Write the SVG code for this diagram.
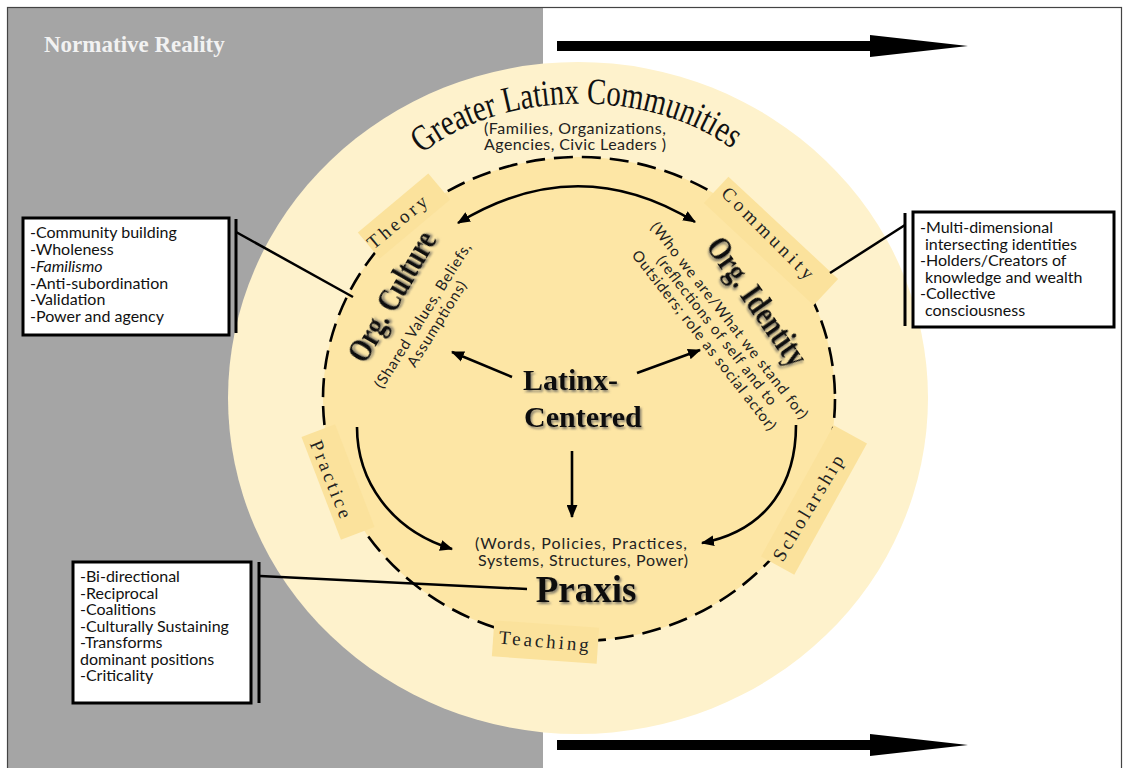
<svg xmlns="http://www.w3.org/2000/svg" width="1128" height="768" viewBox="0 0 1128 768">
<style>
.box{fill:#fff;stroke:#000;stroke-width:3}
.bar{stroke:#000;stroke-width:3}
.conn{stroke:#000;stroke-width:2.5;fill:none}
.btxt{font-family:Lato,"Open Sans",sans-serif;font-size:16px;fill:#111}
.sub{font-family:Lato,"Open Sans",sans-serif;font-size:16px;fill:#222}
.rsub{font-family:Lato,"Open Sans",sans-serif;font-size:15px;fill:#222}
.lbl{font-family:"Liberation Serif",serif;font-size:19px;fill:#222}
.arc{font-family:"Liberation Serif",serif;font-size:37px;fill:#111}
.big{font-family:"Liberation Serif",serif;font-weight:bold;fill:#111}
.patch{fill:#FBE29C}
.arr{stroke:#000;stroke-width:2.6;fill:none}
</style>
<defs>
<marker id="ah" viewBox="0 0 12 10" refX="11" refY="5" markerWidth="13" markerHeight="11" markerUnits="userSpaceOnUse" orient="auto-start-reverse">
<path d="M0,0 L12,5 L0,10 z" fill="#000"/>
</marker>
<filter id="sh" x="-20%" y="-30%" width="140%" height="160%">
<feDropShadow dx="1.5" dy="2" stdDeviation="1.2" flood-color="#555" flood-opacity="0.7"/>
</filter>
<path id="arcG" d="M422,154 A200,130 0 0 1 738,154"/>
</defs>

<!-- background -->
<rect x="0" y="0" width="1128" height="768" fill="#fff"/>
<rect x="7" y="7" width="536" height="763" fill="#A5A5A5"/>
<rect x="7.5" y="7.5" width="1114" height="764" fill="none" stroke="#444" stroke-width="1.2"/>
<text x="44" y="52" font-family="Liberation Serif,serif" font-weight="bold" font-size="23" fill="#F2F2F2">Normative Reality</text>

<!-- big arrows -->
<g id="arrow-top"><path d="M557,41 L870,41 L870,35 L968,46 L870,57 L870,51 L557,51 z" fill="#000"/></g>
<g id="arrow-bottom"><path d="M557,740 L870,740 L870,734 L968,745 L870,756 L870,750 L557,750 z" fill="#000"/></g>

<!-- circles -->
<g id="outer-circle">
<ellipse cx="578" cy="398" rx="350" ry="336" fill="#FEF2CC"/>
<text class="arc"><textPath href="#arcG" textLength="330" lengthAdjust="spacingAndGlyphs">Greater Latinx Communities</textPath></text>
<text class="sub" x="575" y="134" text-anchor="middle" textLength="182">(Families, Organizations,</text>
<text class="sub" x="575" y="150" text-anchor="middle" textLength="182">Agencies, Civic Leaders )</text>
</g>
<g id="inner-circle">
<ellipse cx="579" cy="399" rx="256" ry="242" fill="#FDE6A5"/>
<ellipse cx="579" cy="399" rx="256" ry="242" fill="none" stroke="#000" stroke-width="2.6" stroke-dasharray="19 9"/>
</g>

<!-- patches -->
<g id="theory">
<rect class="patch" x="-46" y="-17" width="92" height="34" transform="translate(404,216) rotate(-40)"/>
<text class="lbl" transform="translate(397,222) rotate(-40)" text-anchor="middle" dominant-baseline="central" textLength="72">Theory</text>
</g>
<g id="community">
<rect class="patch" x="-75" y="-18" width="150" height="36" transform="translate(771,241) rotate(43)"/>
<text class="lbl" transform="translate(768,233) rotate(45)" text-anchor="middle" dominant-baseline="central" textLength="122">Community</text>
</g>
<g id="practice">
<rect class="patch" x="-55" y="-18" width="110" height="36" transform="translate(338,482) rotate(69)"/>
<text class="lbl" transform="translate(331,479) rotate(68)" text-anchor="middle" dominant-baseline="central" textLength="82">Practice</text>
</g>
<g id="scholarship">
<rect class="patch" x="-75" y="-19" width="150" height="38" transform="translate(814,500) rotate(-61)"/>
<text class="lbl" transform="translate(808,508) rotate(-59)" text-anchor="middle" dominant-baseline="central" textLength="120">Scholarship</text>
</g>
<g id="teaching">
<rect class="patch" x="-52" y="-18" width="105" height="36" transform="translate(545,642) rotate(4)"/>
<text class="lbl" transform="translate(544,641) rotate(5)" text-anchor="middle" dominant-baseline="central" textLength="90">Teaching</text>
</g>

<!-- nodes inside -->
<g id="org-culture">
<text class="big" style="font-size:34px" transform="translate(391,296) rotate(-60)" text-anchor="middle" dominant-baseline="central" textLength="145" lengthAdjust="spacingAndGlyphs" filter="url(#sh)">Org. Culture</text>
<text class="rsub" transform="translate(422,315) rotate(-58)" text-anchor="middle" dominant-baseline="central" textLength="168">(Shared Values, Beliefs,</text>
<text class="rsub" transform="translate(436,323.5) rotate(-58)" text-anchor="middle" dominant-baseline="central" textLength="98">Assumptions)</text>
</g>
<g id="org-identity">
<text class="big" style="font-size:34px" transform="translate(758,301) rotate(55)" text-anchor="middle" dominant-baseline="central" textLength="150" lengthAdjust="spacingAndGlyphs" filter="url(#sh)">Org. Identity</text>
<text class="rsub" transform="translate(730,320) rotate(52)" text-anchor="middle" dominant-baseline="central" textLength="245">(Who we are/What we stand for)</text>
<text class="rsub" transform="translate(717.4,330) rotate(52)" text-anchor="middle" dominant-baseline="central" textLength="185">(reflections of self and to</text>
<text class="rsub" transform="translate(704.8,339.7) rotate(52)" text-anchor="middle" dominant-baseline="central" textLength="224">Outsiders; role as social actor)</text>
</g>
<g id="latinx-centered">
<text class="big" style="font-size:30px" x="523" y="390" filter="url(#sh)">Latinx-</text>
<text class="big" style="font-size:30px" x="524" y="427" filter="url(#sh)">Centered</text>
</g>
<g id="praxis">
<text class="sub" x="581" y="549" text-anchor="middle" textLength="212">(Words, Policies, Practices,</text>
<text class="sub" x="583" y="566" text-anchor="middle" textLength="210">Systems, Structures, Power)</text>
<text class="big" style="font-size:37px" x="586" y="602" text-anchor="middle" filter="url(#sh)">Praxis</text>
</g>

<!-- side boxes -->
<g id="box-culture">
<rect class="box" x="23" y="218" width="206" height="117"/>
<line class="bar" x1="236" y1="219" x2="236" y2="333"/>
<text class="btxt" x="30" y="238">-Community building</text>
<text class="btxt" x="30" y="255">-Wholeness</text>
<text class="btxt" x="30" y="272">-<tspan font-style="italic">Familismo</tspan></text>
<text class="btxt" x="30" y="288.5">-Anti-subordination</text>
<text class="btxt" x="30" y="305">-Validation</text>
<text class="btxt" x="30" y="322">-Power and agency</text>
</g>
<g id="box-identity">
<rect class="box" x="913" y="212" width="201" height="115"/>
<line class="bar" x1="905" y1="213" x2="905" y2="326"/>
<text class="btxt" x="920" y="233">-Multi-dimensional</text>
<text class="btxt" x="925" y="249.5">intersecting identities</text>
<text class="btxt" x="920" y="266">-Holders/Creators of</text>
<text class="btxt" x="925" y="282.5">knowledge and wealth</text>
<text class="btxt" x="920" y="299">-Collective</text>
<text class="btxt" x="925" y="315.5">consciousness</text>
</g>
<g id="box-praxis">
<rect class="box" x="73" y="562" width="178" height="141"/>
<line class="bar" x1="259" y1="562" x2="259" y2="703"/>
<text class="btxt" x="80" y="582">-Bi-directional</text>
<text class="btxt" x="80" y="598.5">-Reciprocal</text>
<text class="btxt" x="80" y="615">-Coalitions</text>
<text class="btxt" x="80" y="631.5">-Culturally Sustaining</text>
<text class="btxt" x="80" y="648">-Transforms</text>
<text class="btxt" x="80" y="664.5">dominant positions</text>
<text class="btxt" x="80" y="681">-Criticality</text>
</g>

<!-- connectors -->
<g id="connectors">
<line class="conn" x1="236" y1="232" x2="353" y2="297"/>
<line class="conn" x1="905" y1="225" x2="830" y2="273"/>
<line class="conn" x1="260" y1="576" x2="527" y2="589"/>
<path class="arr" d="M458,223 Q578,150 695,222" marker-start="url(#ah)" marker-end="url(#ah)"/>
<line class="arr" x1="512" y1="377" x2="452" y2="352" marker-end="url(#ah)"/>
<line class="arr" x1="637" y1="373" x2="700" y2="350" marker-end="url(#ah)"/>
<line class="arr" x1="572" y1="451" x2="572" y2="517" marker-end="url(#ah)"/>
<path class="arr" d="M357,427 C357,480 390,530 452,549" marker-end="url(#ah)"/>
<path class="arr" d="M796,425 C796,480 770,530 702,543" marker-end="url(#ah)"/>
</g>
</svg>
